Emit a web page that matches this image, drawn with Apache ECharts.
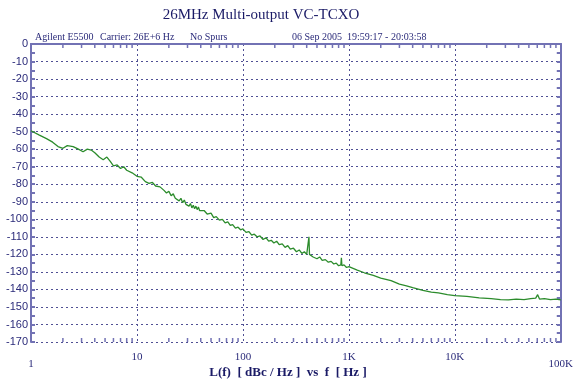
<!DOCTYPE html>
<html>
<head>
<meta charset="utf-8">
<script src="https://cdn.jsdelivr.net/npm/echarts@6/dist/echarts.min.js"></script>
<style>html,body{margin:0;padding:0;background:#fff;}#c{width:576px;height:381px;}</style>
</head>
<body>
<div id="c"></div>
<script>
// Offset frequencies (Hz)
const freqs = [1, 1.2, 1.4, 1.6, 1.8, 2.0, 2.2, 2.5, 2.8, 3.1, 3.4, 3.7, 4.0, 4.4, 4.8, 5.2, 5.6, 6.0, 6.5, 7.0, 7.5, 8.0, 9.0, 10, 11, 12, 13, 14, 15, 16.5,
  18, 19, 20, 21, 22, 23, 24, 25, 26, 27, 28, 29, 30, 31, 32, 33, 34, 35, 36, 37, 38, 39, 40, 43, 46, 50, 53, 56, 60, 64, 68, 72, 76, 80, 85, 90, 95,
  100, 107, 114, 121, 128, 136, 145, 155, 165, 175, 185, 196, 208, 220, 235, 250, 265, 280, 300, 320, 340, 360, 380, 400, 415, 420, 425,
  440, 460, 480, 500, 530, 560, 600, 640, 680, 720, 760, 800, 840, 850, 860, 900, 950,
  1000, 1200, 1400, 1700, 2000, 2500, 3000, 3500, 4000, 5000, 6000, 7000, 8500,
  10000, 13000, 17000, 22000, 27000, 32000, 38000, 45000, 52000, 58000, 60500, 63000, 70000, 80000, 90000, 100000];
// Phase noise L(f) in dBc/Hz
const levels = [-49.5, -52, -54, -56, -58.5, -59.5, -58, -58.5, -60, -61.5, -60, -60.5, -62, -64.5, -66, -64.5, -67, -69.5, -69, -71, -70, -72, -73.5, -75.5, -76, -78.5, -79.5, -79, -81, -81.5,
  -83.5, -85, -84, -86.5, -85.5, -88, -87, -89.5, -88, -90.5, -89, -91.5, -90.5, -92.5, -91, -93.5, -92, -94, -92.5, -94.5, -93, -95, -94, -95, -97, -96.5, -99, -98.5, -100.5, -100, -102, -101.5, -103.5, -103, -105, -104.5, -106,
  -105.5, -107.5, -107, -109, -108.5, -110, -109.5, -111.5, -110.5, -112.5, -112, -113.5, -112.5, -114.5, -114, -116, -115, -117, -116.5, -118.5, -117.5, -119.5, -118.5, -120, -119.5, -110, -120,
  -119.5, -121.5, -120.5, -122.5, -121.5, -123.5, -123, -124.5, -124, -125.5, -125, -126.5, -126, -122, -126.5, -126, -127.5,
  -127, -129, -130.5, -132, -133.5, -135, -137, -138, -139, -140.5, -141.5, -142, -143,
  -143.5, -144, -144.8, -145.3, -145.8, -146, -145.5, -145.8, -145.3, -145, -143, -145.5, -145.2, -145.8, -145.5, -146];
// Axis tick labels
const xTickValues = [1, 10, 100, 1000, 10000, 100000];
const xTickLabels = ['1', '10', '100', '1K', '10K', '100K'];
const minorMultipliers = [2, 3, 4, 5, 6, 7, 8, 9];
const yMin = -170, yMax = 0;

const minorFreqs = [];
xTickValues.slice(0, -1).forEach(d => minorMultipliers.forEach(k => minorFreqs.push([d * k, 0])));

const axisCol = '#7272b4';
const gridCol = '#5050945';
const textCol = '#2b2b7a';

const chart = echarts.init(document.getElementById('c'));
chart.setOption({
  animation: false,
  backgroundColor: '#fff',
  grid: { left: 31, right: 13, top: 44, bottom: 39 },
  xAxis: [{
    type: 'log', logBase: 10, min: 1, max: 100000, splitNumber: 5,
    axisLine: { show: true, lineStyle: { color: axisCol, width: 2 } },
    axisTick: { show: false },
    splitLine: { show: true, lineStyle: { color: '#505094', type: [2, 3], width: 1 } },
    axisLabel: {
      margin: 10, color: textCol, fontFamily: 'Liberation Serif', fontSize: 11,
      formatter: v => {
        const i = xTickValues.findIndex(t => Math.abs(Math.log10(t) - Math.log10(v)) < 1e-6);
        if (i < 0) return '';
        const s = xTickLabels[i];
        return (i === 0 || i === xTickValues.length - 1) ? '{low|' + s + '}' : s;
      },
      rich: { low: { padding: [7, 0, 0, 0], color: textCol, fontFamily: 'Liberation Serif', fontSize: 11 } }
    }
  }, {
    type: 'log', logBase: 10, min: 1, max: 100000, position: 'top',
    axisLine: { show: true, lineStyle: { color: axisCol, width: 2 } },
    axisTick: { show: false }, axisLabel: { show: false }, splitLine: { show: false }
  }],
  yAxis: [{
    type: 'value', min: yMin, max: yMax, interval: 10,
    axisLine: { show: true, lineStyle: { color: axisCol, width: 2 } },
    axisTick: { show: true, inside: true, length: 4, lineStyle: { color: axisCol, width: 2 } },
    minorTick: { show: true, splitNumber: 2, length: 4, lineStyle: { color: axisCol, width: 2 } },
    splitLine: { show: true, lineStyle: { color: '#505094', type: [2, 3], width: 1 } },
    axisLabel: { margin: 3, color: textCol, fontFamily: 'Liberation Sans', fontSize: 11 }
  }, {
    type: 'value', min: yMin, max: yMax, interval: 10, position: 'right',
    axisLine: { show: true, lineStyle: { color: axisCol, width: 2 } },
    axisTick: { show: true, inside: true, length: 4, lineStyle: { color: axisCol, width: 2 } },
    minorTick: { show: true, splitNumber: 2, length: 4, lineStyle: { color: axisCol, width: 2 } },
    splitLine: { show: false }, axisLabel: { show: false }
  }],
  series: [{
    type: 'line', xAxisIndex: 0, yAxisIndex: 0,
    data: freqs.map((f, i) => [f, levels[i]]),
    showSymbol: false, symbol: 'none',
    lineStyle: { color: '#2c8c2c', width: 1.3 }
  }, {
    type: 'custom', xAxisIndex: 0, yAxisIndex: 0, silent: true,
    data: minorFreqs,
    renderItem: (params, api) => {
      const f = api.value(0);
      const b = api.coord([f, yMin]);
      const t = api.coord([f, yMax]);
      const st = { stroke: axisCol, lineWidth: 1.5 };
      return { type: 'group', children: [
        { type: 'line', shape: { x1: b[0], y1: b[1], x2: b[0], y2: b[1] - 4 }, style: st },
        { type: 'line', shape: { x1: t[0], y1: t[1], x2: t[0], y2: t[1] + 4 }, style: st }
      ] };
    }
  }],
  graphic: [
    { type: 'text', x: 261, y: 15, style: { text: '26MHz Multi-output VC-TCXO', fill: '#1a1a66', font: '15px "Liberation Serif"', textAlign: 'center', textVerticalAlign: 'middle' } },
    { type: 'text', x: 35, y: 37, style: { text: 'Agilent E5500', fill: textCol, font: '10px "Liberation Serif"', textVerticalAlign: 'middle' } },
    { type: 'text', x: 100, y: 37, style: { text: 'Carrier: 26E+6 Hz', fill: textCol, font: '10px "Liberation Serif"', textVerticalAlign: 'middle' } },
    { type: 'text', x: 190, y: 37, style: { text: 'No Spurs', fill: textCol, font: '10px "Liberation Serif"', textVerticalAlign: 'middle' } },
    { type: 'text', x: 292, y: 37, style: { text: '06 Sep 2005  19:59:17 - 20:03:58', fill: textCol, font: '10px "Liberation Serif"', textVerticalAlign: 'middle' } },
    { type: 'text', x: 288, y: 373, style: { text: 'L(f)  [ dBc / Hz ]  vs  f  [ Hz ]', fill: '#1a1a66', font: 'bold 13px "Liberation Serif"', textAlign: 'center', textVerticalAlign: 'middle' } }
  ]
});
</script>
</body>
</html>
